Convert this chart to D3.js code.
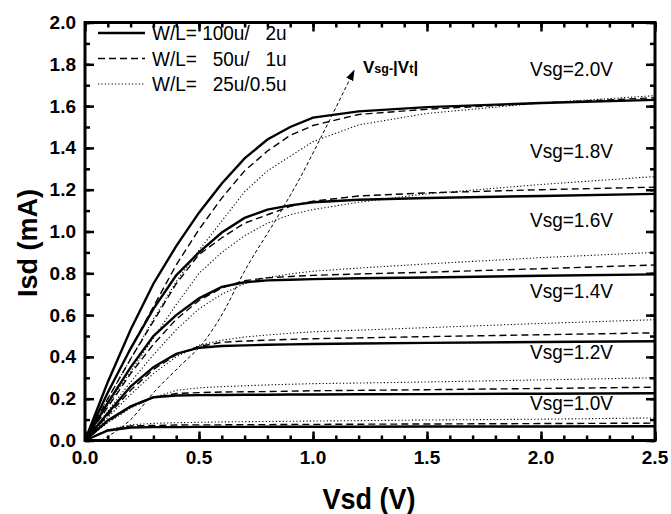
<!DOCTYPE html>
<html>
<head>
<meta charset="utf-8">
<script src="https://cdn.jsdelivr.net/npm/d3@7"></script>
<style>
  body { margin: 0; background: #fff; }
  svg { display: block; font-family: "Liberation Sans", Arial, sans-serif; }
  text { white-space: pre; }
</style>
</head>
<body>
<svg id="chart" width="671" height="514"></svg>
<script>
// Vsd sample points shared by every curve
const vsdGrid = [0, 0.1, 0.2, 0.3, 0.4, 0.5, 0.6, 0.7, 0.8, 0.9, 1.0, 1.2, 1.5, 2.0, 2.5]
const vsgLevels = [2.0, 1.8, 1.6, 1.4, 1.2, 1.0]

// W/L = 100u/2u (solid), one row per Vsg in vsgLevels order
const isdSolid = [
  [0, 0.28, 0.53, 0.75, 0.93, 1.09, 1.23, 1.35, 1.44, 1.50, 1.545, 1.575, 1.595, 1.615, 1.63],
  [0, 0.23, 0.44, 0.63, 0.79, 0.90, 0.995, 1.065, 1.105, 1.125, 1.14, 1.152, 1.16, 1.17, 1.18],
  [0, 0.18, 0.35, 0.50, 0.60, 0.68, 0.735, 0.757, 0.766, 0.769, 0.772, 0.776, 0.78, 0.788, 0.795],
  [0, 0.13, 0.258, 0.351, 0.415, 0.444, 0.452, 0.455, 0.458, 0.46, 0.462, 0.464, 0.467, 0.471, 0.475],
  [0, 0.096, 0.163, 0.207, 0.215, 0.217, 0.218, 0.219, 0.219, 0.22, 0.22, 0.221, 0.222, 0.224, 0.226],
  [0, 0.048, 0.062, 0.064, 0.064, 0.065, 0.065, 0.065, 0.066, 0.066, 0.066, 0.066, 0.067, 0.067, 0.068]
]
// W/L = 50u/1u (dashed)
const isdDashed = [
  [0, 0.23, 0.44, 0.64, 0.84, 1.01, 1.16, 1.29, 1.385, 1.46, 1.507, 1.56, 1.585, 1.615, 1.64],
  [0, 0.2, 0.39, 0.57, 0.75, 0.89, 0.97, 1.04, 1.08, 1.12, 1.145, 1.17, 1.185, 1.20, 1.212],
  [0, 0.16, 0.32, 0.46, 0.58, 0.67, 0.73, 0.765, 0.778, 0.785, 0.79, 0.797, 0.805, 0.822, 0.84],
  [0, 0.12, 0.24, 0.34, 0.41, 0.45, 0.47, 0.476, 0.48, 0.484, 0.487, 0.491, 0.497, 0.506, 0.515],
  [0, 0.09, 0.16, 0.205, 0.225, 0.229, 0.232, 0.233, 0.234, 0.236, 0.238, 0.24, 0.243, 0.249, 0.255],
  [0, 0.05, 0.07, 0.072, 0.074, 0.075, 0.075, 0.076, 0.076, 0.077, 0.077, 0.078, 0.079, 0.081, 0.083]
]
// W/L = 25u/0.5u (dotted)
const isdDotted = [
  [0, 0.2, 0.39, 0.58, 0.76, 0.91, 1.05, 1.19, 1.29, 1.36, 1.43, 1.51, 1.565, 1.615, 1.65],
  [0, 0.17, 0.33, 0.49, 0.65, 0.80, 0.90, 0.98, 1.04, 1.08, 1.105, 1.14, 1.18, 1.225, 1.263],
  [0, 0.14, 0.28, 0.41, 0.53, 0.63, 0.70, 0.75, 0.78, 0.797, 0.81, 0.825, 0.845, 0.875, 0.90],
  [0, 0.11, 0.22, 0.32, 0.40, 0.455, 0.48, 0.495, 0.505, 0.513, 0.52, 0.528, 0.54, 0.56, 0.578],
  [0, 0.085, 0.155, 0.205, 0.24, 0.252, 0.258, 0.262, 0.266, 0.269, 0.272, 0.275, 0.28, 0.29, 0.30],
  [0, 0.05, 0.075, 0.082, 0.085, 0.087, 0.089, 0.09, 0.091, 0.092, 0.093, 0.095, 0.098, 0.102, 0.108]
]

// Vsg-|Vt| locus (dashed arrow)
const locusVsd = [0.07, 0.2, 0.31, 0.42, 0.52, 0.62, 0.68, 0.85, 0.94, 1.03, 1.18]
const locusIsd = [0, 0.1, 0.24, 0.36, 0.47, 0.64, 0.77, 1.08, 1.25, 1.44, 1.77]

const legendLabels = ['W/L= 100u/   2u', 'W/L=   50u/   1u', 'W/L=   25u/0.5u']
const vsgLabels = ['Vsg=2.0V', 'Vsg=1.8V', 'Vsg=1.6V', 'Vsg=1.4V', 'Vsg=1.2V', 'Vsg=1.0V']
const vsgLabelIsd = [1.745, 1.35, 1.02, 0.68, 0.39, 0.145]

const svg = d3.select('#chart')
const x = d3.scaleLinear().domain([0, 2.5]).range([85, 655])
const y = d3.scaleLinear().domain([0, 2]).range([440.5, 22.5])

const styles = [
  { rows: isdSolid, width: 2.4, dash: null },
  { rows: isdDashed, width: 1.4, dash: '7,4' },
  { rows: isdDotted, width: 1.1, dash: '1.2,2.2' }
]

const line = d3.line().x(d => x(d[0])).y(d => y(d[1]))

// curves
const gCurves = svg.append('g').attr('fill', 'none').attr('stroke', '#000')
styles.forEach(s => {
  s.rows.forEach(row => {
    gCurves.append('path')
      .datum(vsdGrid.map((v, i) => [v, row[i]]))
      .attr('stroke-width', s.width)
      .attr('stroke-dasharray', s.dash)
      .attr('d', line)
  })
})

// locus arrow
svg.append('defs').append('marker')
    .attr('id', 'arrow')
    .attr('viewBox', '0 0 10 10')
    .attr('refX', 9).attr('refY', 5)
    .attr('markerWidth', 11).attr('markerHeight', 11)
    .attr('markerUnits', 'userSpaceOnUse')
    .attr('orient', 'auto')
  .append('path')
    .attr('d', 'M0,1.5 L10,5 L0,8.5 Z')
    .attr('fill', '#000')

svg.append('path')
    .datum(locusVsd.map((v, i) => [v, locusIsd[i]]))
    .attr('fill', 'none')
    .attr('stroke', '#000')
    .attr('stroke-width', 1)
    .attr('stroke-dasharray', '3.5,2.5')
    .attr('marker-end', 'url(#arrow)')
    .attr('d', d3.line().x(d => x(d[0])).y(d => y(d[1])).curve(d3.curveMonotoneX))

// axes: inward ticks on all four sides
const xMinor = d3.range(0, 26).map(d => d / 10)
const yMinor = d3.range(0, 21).map(d => d / 10)
const xMajor = [0, 0.5, 1, 1.5, 2, 2.5]
const yMajor = d3.range(0, 11).map(d => d / 5)

const axes = [
  [d3.axisBottom, x, `translate(0,${y(0)})`, xMinor, xMajor],
  [d3.axisTop, x, `translate(0,${y(2)})`, xMinor, xMajor],
  [d3.axisLeft, y, `translate(${x(0)},0)`, yMinor, yMajor],
  [d3.axisRight, y, `translate(${x(2.5)},0)`, yMinor, yMajor]
]
axes.forEach(([mk, scale, tr, minor, major]) => {
  [[minor, 5], [major, 9]].forEach(([vals, size]) => {
    svg.append('g').attr('transform', tr)
        .call(mk(scale).tickValues(vals).tickSizeInner(-size).tickSizeOuter(0).tickFormat(''))
        .call(g => g.select('.domain').remove())
        .call(g => g.selectAll('.tick line').attr('stroke-width', 2.5))
  })
})

// frame
svg.append('rect')
    .attr('x', x(0)).attr('y', y(2))
    .attr('width', x(2.5) - x(0)).attr('height', y(0) - y(2))
    .attr('fill', 'none').attr('stroke', '#000').attr('stroke-width', 3)

// tick labels
svg.append('g')
    .style('font-weight', 'bold').style('font-size', '19px')
  .selectAll('text').data(xMajor).join('text')
    .attr('x', d => x(d)).attr('y', 464)
    .attr('text-anchor', 'middle')
    .text(d3.format('.1f'))
svg.append('g')
    .style('font-weight', 'bold').style('font-size', '19px')
  .selectAll('text').data(yMajor).join('text')
    .attr('x', 76).attr('y', d => y(d) + 6.5)
    .attr('text-anchor', 'end')
    .text(d3.format('.1f'))

// axis titles
svg.append('text')
    .attr('transform', 'translate(369,509) scale(1,1.12)')
    .attr('text-anchor', 'middle')
    .style('font-weight', 'bold').style('font-size', '27px')
    .text('Vsd (V)')
svg.append('text')
    .attr('transform', 'translate(37,243) rotate(-90) scale(1,1.05)')
    .attr('text-anchor', 'middle')
    .style('font-weight', 'bold').style('font-size', '27px')
    .text('Isd (mA)')

// Vsg labels
svg.append('g').style('font-size', '19px')
  .selectAll('text').data(vsgLabels).join('text')
    .attr('transform', (d, i) => `translate(530,${y(vsgLabelIsd[i])}) scale(1,1.08)`)
    .text(d => d)

// Vsg-|Vt| label
const lbl = svg.append('text')
    .attr('x', 363).attr('y', 73)
    .style('font-weight', 'bold').style('font-size', '17px')
lbl.append('tspan').text('V')
lbl.append('tspan').style('font-size', '12.5px').text('sg-')
lbl.append('tspan').text('|V')
lbl.append('tspan').style('font-size', '12.5px').text('t')
lbl.append('tspan').text('|')

// legend
const legend = svg.append('g')
legend.selectAll('line').data(styles).join('line')
    .attr('x1', 98).attr('x2', 145)
    .attr('y1', (d, i) => 33 + i * 25.5).attr('y2', (d, i) => 33 + i * 25.5)
    .attr('stroke', '#000')
    .attr('stroke-width', d => d.width)
    .attr('stroke-dasharray', d => d.dash)
legend.selectAll('text').data(legendLabels).join('text')
    .attr('transform', (d, i) => `translate(152,${40 + i * 25.5}) scale(1,1.08)`)
    .style('font-size', '19px')
    .text(d => d)
</script>
</body>
</html>
